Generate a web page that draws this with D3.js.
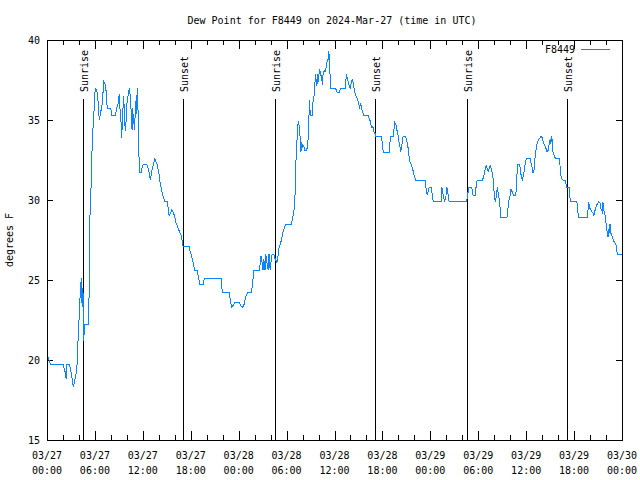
<!DOCTYPE html>
<html>
<head>
<meta charset="utf-8">
<script src="https://cdn.jsdelivr.net/npm/d3@7"></script>
<style>
  html, body { margin: 0; padding: 0; background: #fff; }
  text { font-family: "DejaVu Sans Mono", "Liberation Mono", monospace; font-size: 10px; fill: #000; }
</style>
</head>
<body>
<svg id="chart" width="640" height="480"></svg>
<script>
// ---- DATA ----
const titleText = "Dew Point for F8449 on 2024-Mar-27 (time in UTC)";
const seriesName = "F8449";
const yLabel = "degrees F";
// hours since 2024-03-27 00:00 UTC
const hours = [
 0,0.12,0.4,2.0,2.3,2.4,2.5,2.8,3.0,3.3,3.5,3.7,3.8,3.9,4.05,4.17,4.3,4.4,4.5,4.6,4.7,5.2,5.3,5.35,5.5,5.6,5.75,5.9,5.97,6.1,6.3,6.4,6.55,6.7,6.9,7.0,7.1,7.3,7.4,7.55,8.0,8.1,8.6,8.7,8.9,9.05,9.15,9.3,9.35,9.5,9.6,9.8,9.9,10.0,
 10.15,10.3,10.5,10.55,10.65,10.7,10.85,10.9,10.95,11.05,11.15,11.2,11.3,11.4,11.5,11.6,11.8,11.9,12.05,12.5,12.65,12.8,12.95,13.05,13.2,13.35,13.5,13.65,13.8,14.0,14.15,14.3,14.45,14.55,14.75,15.05,15.2,15.3,15.5,15.65,15.8,16.0,16.1,16.3,16.45,16.6,16.8,16.9,17.05,17.8,17.9,18.05,18.3,18.5,18.8,19.0,19.15,19.55,19.65,19.8,21.8,
 21.95,22.8,22.9,23.1,23.3,23.5,24.05,24.25,24.5,24.7,24.9,25.1,25.6,25.7,25.9,26.6,26.8,26.9,27.05,27.15,27.3,27.4,27.6,27.7,27.8,27.95,28.1,28.2,28.4,28.5,28.6,28.8,28.9,29.05,29.25,29.4,29.5,29.7,29.9,30.6,30.85,31.0,31.1,31.2,31.45,31.6,
 31.7,31.8,31.9,32.0,32.15,32.3,32.5,32.65,32.7,32.8,32.85,32.9,33.0,33.2,33.35,33.5,33.6,33.7,33.8,33.85,34.0,34.1,34.2,34.35,34.5,34.55,34.7,34.8,34.95,35.05,35.2,35.3,35.35,35.4,35.55,36.05,36.2,36.35,36.55,36.7,36.85,37.35,37.5,37.6,37.7,37.85,38.0,38.1,38.25,38.35,38.5,38.6,38.8,38.9,39.05,39.15,39.3,39.4,39.55,39.65,40.2,40.35,40.5,40.6,40.7,40.8,40.9,41.05,41.15,41.9,42.0,42.1,42.85,
 42.95,43.05,43.35,43.45,43.5,43.6,43.75,43.8,43.9,44.05,44.1,44.25,44.3,44.4,44.5,44.6,44.85,44.95,45.1,45.2,45.3,45.4,45.5,45.65,45.75,45.9,46.0,46.15,47.35,47.45,47.55,47.6,47.75,47.85,48.1,48.2,48.3,48.4,49.35,49.45,49.55,49.6,49.7,49.8,49.95,50.05,50.2,50.25,50.35,52.55,52.7,52.8,
 53.2,53.3,53.35,53.6,53.75,53.85,54.5,54.6,54.75,54.85,55.0,55.1,55.25,55.4,55.5,55.65,55.75,55.9,56.0,56.15,56.3,56.4,56.5,56.65,56.75,56.8,57.6,57.75,57.85,58.0,58.1,58.25,58.4,58.7,58.8,58.9,59.15,59.3,59.4,59.55,59.65,59.8,59.9,60.05,60.5,60.6,60.75,60.85,61.0,61.1,61.25,61.35,61.5,61.6,61.75,61.85,62.0,62.1,62.25,62.35,62.5,62.6,62.75,62.85,63.0,63.1,63.15,63.25,63.3,63.4,63.5,63.65,
 64.15,64.25,64.3,64.45,64.6,64.85,64.95,65.1,65.4,65.45,65.55,66.35,66.45,66.55,67.65,67.75,67.8,67.9,67.95,68.1,68.2,68.35,68.45,68.6,68.7,68.85,68.95,69.1,69.25,69.3,69.5,69.55,69.6,69.7,69.85,69.9,70.05,70.1,70.25,70.3,70.35,70.5,70.55,70.7,70.85,71.0,71.15,71.3,71.4,72
];
const dewPoint = [
 20.7,20.2,19.75,19.75,19.2,18.8,19.75,19.75,19.3,18.3,18.8,19.3,20.0,21.4,22.9,24.3,25.1,23.3,24.5,21.2,22.2,22.2,24.9,28.6,30.5,32.6,34.4,35.7,36.6,37.0,36.7,36.1,35.0,35.4,36.0,36.6,37.4,37.2,36.8,35.7,35.7,35.3,35.3,35.7,36.0,36.6,35.6,34.7,33.9,35.6,36.5,34.3,34.9,36.0,
 36.5,37.0,36.25,34.9,34.4,35.75,35.0,34.7,34.4,35.4,36.25,35.4,37.0,35.6,33.0,31.7,31.7,32.0,32.2,32.2,32.0,31.7,31.25,31.6,32.0,32.3,32.6,32.4,32.2,31.7,31.1,30.75,30.4,30.2,29.9,29.9,29.4,29.0,29.2,29.4,29.2,29.0,28.6,28.4,28.2,28.0,27.8,27.5,27.1,27.1,26.8,26.6,26.1,25.6,25.6,25.1,24.7,24.7,25.0,25.1,25.1,
 24.2,24.2,23.9,23.3,23.4,23.6,23.6,23.4,23.3,23.5,24.0,24.2,24.2,24.6,25.6,25.6,26.5,26.2,25.6,26.3,25.6,26.6,25.9,25.6,26.6,25.6,26.4,26.6,26.6,26.4,26.3,26.1,26.4,27.0,27.3,27.6,27.9,28.2,28.5,28.5,29.1,29.6,30.9,32.9,34.9,34.6,
 33.9,33.0,33.6,33.3,33.4,33.1,33.1,33.4,33.9,35.1,36.25,35.8,35.3,35.3,36.4,36.6,37.9,37.5,37.1,37.9,37.4,38.2,38.0,37.7,37.2,37.8,38.1,38.0,38.3,38.6,38.8,39.3,38.7,38.2,37.0,37.0,36.9,36.7,36.7,36.9,37.0,37.0,37.9,37.6,37.4,37.1,37.0,37.4,37.5,37.3,36.8,36.6,36.4,36.25,36.0,35.8,36.0,35.7,35.5,35.3,35.3,35.1,34.9,34.6,34.5,34.6,34.3,34.2,34.0,34.0,33.4,33.0,33.0,
 33.6,34.0,34.0,34.4,34.9,34.8,34.6,34.4,34.2,33.8,33.5,33.2,33.0,33.4,33.6,34.0,34.0,33.9,33.6,33.3,32.9,32.5,32.3,32.2,32.0,31.7,31.5,31.25,31.25,30.8,30.5,30.3,30.6,30.8,30.8,30.5,30.1,29.9,29.9,30.8,30.5,30.3,30.1,29.9,30.2,30.8,30.5,30.1,29.9,29.9,30.4,30.8,
 30.75,30.5,30.3,30.3,30.9,31.2,31.2,31.35,31.6,31.9,32.2,32.0,31.8,32.0,32.2,31.9,31.7,31.2,30.3,29.9,30.4,30.8,30.4,30.0,29.4,28.9,28.9,29.6,30.0,30.3,30.7,30.5,30.3,30.3,31.0,32.2,32.2,31.9,31.35,31.25,31.6,31.9,32.4,32.6,32.6,32.3,32.0,31.7,31.9,32.6,33.2,33.5,33.7,33.8,33.9,34.0,33.9,33.7,33.5,33.4,33.2,33.0,33.1,33.4,33.8,33.5,34.0,33.8,33.2,32.9,32.8,32.6,
 32.6,32.1,31.6,31.35,31.25,31.25,31.05,30.8,30.8,30.3,29.9,29.9,29.4,28.9,28.9,29.4,29.9,29.7,29.5,29.4,29.3,29.2,29.0,29.3,29.5,29.7,29.8,29.9,29.8,29.5,29.3,29.1,29.9,29.4,29.2,28.9,28.4,28.1,27.7,28.2,27.8,28.5,28.0,27.8,27.6,27.4,27.3,27.1,26.6,26.6
];
const sunriseHours = [4.55, 28.5, 52.55];
const sunsetHours = [17.07, 41.1, 65.15];
const xTickHours = [0, 6, 12, 18, 24, 30, 36, 42, 48, 54, 60, 66, 72];
const xTickDates = ["03/27","03/27","03/27","03/27","03/28","03/28","03/28","03/28","03/29","03/29","03/29","03/29","03/30"];
const xTickTimes = ["00:00","06:00","12:00","18:00","00:00","06:00","12:00","18:00","00:00","06:00","12:00","18:00","00:00"];
const yTicks = [15, 20, 25, 30, 35, 40];

// ---- CHART ----
const svg = d3.select("#chart");
const L = 47, R = 622, T = 40, B = 440;
const x = d3.scaleLinear().domain([0, 72]).range([L, R]);
const y = d3.scaleLinear().domain([15, 40]).range([B, T]);
const lineColor = "#0a84ff";

svg.append("rect").attr("width", 640).attr("height", 480).attr("fill", "#fff");

// title
svg.append("text").attr("x", 332).attr("y", 24).attr("text-anchor", "middle").text(titleText);

// y label
svg.append("text").attr("transform", "translate(13,240) rotate(-90)")
  .attr("text-anchor", "middle").text(yLabel);

const minorHours = d3.range(0, 73, 2).filter(h => h % 6 !== 0);

// bottom axis
const gB = svg.append("g").attr("transform", `translate(0,${B})`);
gB.call(d3.axisBottom(x).tickValues(xTickHours).tickSize(-9).tickFormat(""))
  .call(g => g.select(".domain").remove());
gB.append("g").call(d3.axisBottom(x).tickValues(minorHours).tickSize(-5).tickFormat(""))
  .call(g => g.select(".domain").remove());
// top axis (mirror)
const gT = svg.append("g").attr("transform", `translate(0,${T})`);
gT.call(d3.axisTop(x).tickValues(xTickHours).tickSize(-9).tickFormat(""))
  .call(g => g.select(".domain").remove());
gT.append("g").call(d3.axisTop(x).tickValues(minorHours).tickSize(-5).tickFormat(""))
  .call(g => g.select(".domain").remove());
// left axis
const gL = svg.append("g").attr("transform", `translate(${L},0)`);
gL.call(d3.axisLeft(y).tickValues(yTicks).tickSize(-6).tickFormat(""))
  .call(g => g.select(".domain").remove());
// right axis
const gR = svg.append("g").attr("transform", `translate(${R},0)`);
gR.call(d3.axisRight(y).tickValues(yTicks).tickSize(-6).tickFormat(""))
  .call(g => g.select(".domain").remove());
svg.selectAll(".tick line").attr("stroke", "#000").attr("shape-rendering", "crispEdges");

// tick labels
xTickHours.forEach((h, i) => {
  svg.append("text").attr("x", x(h)).attr("y", 459).attr("text-anchor", "middle").text(xTickDates[i]);
  svg.append("text").attr("x", x(h)).attr("y", 474).attr("text-anchor", "middle").text(xTickTimes[i]);
});
yTicks.forEach(v => {
  svg.append("text").attr("x", 40).attr("y", y(v) + 4).attr("text-anchor", "end").text(v);
});

// sun lines
const sunEvents = sunriseHours.map(h => ({h, label: "Sunrise"}))
  .concat(sunsetHours.map(h => ({h, label: "Sunset"})));
sunEvents.forEach(e => {
  const px = Math.round(x(e.h)) + 0.5;
  svg.append("line").attr("x1", px).attr("x2", px).attr("y1", 99).attr("y2", B)
    .attr("stroke", "#000").attr("stroke-width", 1).attr("shape-rendering", "crispEdges");
  svg.append("text").attr("transform", `translate(${px + 4.5},92) rotate(-90)`)
    .attr("text-anchor", "start").text(e.label);
});

// data line
const pts = hours.map((h, i) => [h, dewPoint[i]]);
svg.append("path").datum(pts)
  .attr("fill", "none").attr("stroke", lineColor).attr("stroke-width", 1)
  .attr("shape-rendering", "crispEdges")
  .attr("d", d3.line().x(d => x(d[0])).y(d => y(d[1])));

// frame
svg.append("rect").attr("x", L + 0.5).attr("y", T + 0.5).attr("width", R - L).attr("height", B - T)
  .attr("fill", "none").attr("stroke", "#000").attr("stroke-width", 1).attr("shape-rendering", "crispEdges");

// legend
svg.append("text").attr("x", 575).attr("y", 53).attr("text-anchor", "end").text(seriesName);
svg.append("line").attr("x1", 581).attr("x2", 610).attr("y1", 49.5).attr("y2", 49.5)
  .attr("stroke", lineColor).attr("stroke-width", 1).attr("shape-rendering", "crispEdges");
</script>
</body>
</html>
